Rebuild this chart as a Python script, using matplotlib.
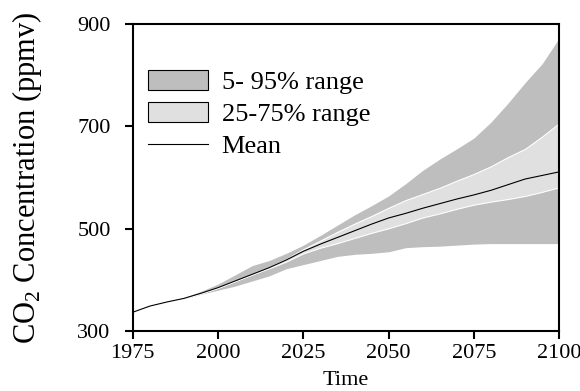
import matplotlib
matplotlib.use("Agg")
import matplotlib.pyplot as plt
from matplotlib.patches import Patch
from matplotlib.lines import Line2D

plt.rcParams['font.family'] = ['Liberation Serif', 'DejaVu Serif']
plt.rcParams['mathtext.fontset'] = 'custom'
plt.rcParams['mathtext.rm'] = 'Liberation Serif'

# values (ppmv)
years = [1975, 1980, 1985, 1990, 1995, 2000, 2005, 2010, 2015, 2020, 2025,
         2030, 2035, 2040, 2045, 2050, 2055, 2060, 2065, 2070, 2075, 2080,
         2085, 2090, 2095, 2100]
mean = [337, 349, 357, 364, 374, 385, 398, 411, 424, 439, 456, 470, 483,
        496, 509, 521, 530, 540, 549, 558, 566, 575, 586, 597, 604, 611]
p95 = [337, 349, 358, 366, 378, 392, 410, 428, 438, 452, 468, 487, 507,
       527, 545, 564, 588, 614, 636, 656, 677, 708, 745, 785, 822, 872]
p05 = [337, 349, 357, 363, 372, 380, 388, 398, 408, 422, 430, 438, 446,
       450, 452, 455, 463, 465, 466, 468, 470, 471, 471, 471, 471, 471]
p75 = [337, 349, 357, 364, 374, 385, 398, 411, 425, 441, 460, 477, 494,
       510, 525, 541, 556, 568, 580, 594, 607, 622, 640, 656, 680, 706]
p25 = [337, 349, 357, 364, 374, 385, 398, 411, 423, 436, 452, 463, 472,
       482, 492, 501, 511, 522, 530, 539, 547, 553, 558, 564, 572, 581]

dark = '#bebebe'
light = '#e0e0e0'

fig = plt.figure(figsize=(5.8, 3.91), dpi=100)
ax = fig.add_axes([0.229, 0.153, 0.735, 0.786])

ax.fill_between(years, p05, p95, color=dark, lw=0)
ax.fill_between(years, p25, p75, facecolor=light, edgecolor='white', lw=0.8)
ax.plot(years, mean, color='black', lw=0.8)

ax.set_xlim(1975, 2100)
ax.set_ylim(300, 900)
ax.set_xticks([1975, 2000, 2025, 2050, 2075, 2100])
ax.set_yticks([300, 500, 700, 900])
ax.tick_params(direction='out', length=6, width=1.5, labelsize=16)
ax.tick_params(axis='x', pad=3)
ax.tick_params(axis='y', pad=10)
for s in ax.spines.values():
    s.set_linewidth(1.5)

ax.set_xlabel('Time', fontsize=16, labelpad=6)
ax.set_ylabel('CO$_2$ Concentration (ppmv)', fontsize=22, labelpad=24)

handles = [Patch(facecolor=dark, edgecolor='black', lw=0.8),
           Patch(facecolor=light, edgecolor='black', lw=0.8),
           Line2D([], [], color='black', lw=0.8)]
ax.legend(handles, ['5- 95% range', '25-75% range', 'Mean'],
          loc='upper left', bbox_to_anchor=(0.01, 0.885), frameon=False,
          fontsize=19, handlelength=2.3, handleheight=0.8,
          handletextpad=0.5, labelspacing=0.3, borderaxespad=0)

fig.savefig('out.png', dpi=100)
